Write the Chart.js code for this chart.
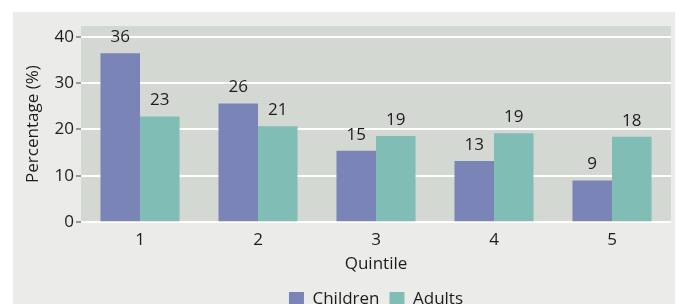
<!DOCTYPE html>
<html>
<head>
<meta charset="utf-8">
<script src="https://cdn.jsdelivr.net/npm/chart.js@4.4.0/dist/chart.umd.min.js"></script>
<style>
  html, body { margin: 0; padding: 0; background: #ffffff; }
</style>
</head>
<body>
<canvas id="quintileChart" width="681" height="304"></canvas>
<script>
// Chart values
const quintiles = ['1', '2', '3', '4', '5'];
const childrenValues = [36.4, 25.6, 15.4, 13.2, 9.0];
const adultsValues = [22.8, 20.7, 18.6, 19.2, 18.4];
const yTickValues = [0, 10, 20, 30, 40];

const FONT = '"Open Sans", "Noto Sans", sans-serif';
const TEXT = '#1c1c1c';
const SIZE = 17;

// Grey outer panel and darker plot background
const panelPlugin = {
    id: 'panel',
    beforeDraw(chart) {
        const ctx = chart.ctx;
        const area = chart.chartArea;
        ctx.save();
        ctx.fillStyle = '#ebecea';
        ctx.fillRect(13, 12, 662, 292);
        ctx.fillStyle = '#d4d8d3';
        ctx.fillRect(area.left, area.top, area.right - area.left, area.bottom - area.top);
        ctx.restore();
    }
};

// Rounded value labels above each bar
const valueLabels = {
    id: 'valueLabels',
    afterDatasetsDraw(chart) {
        const ctx = chart.ctx;
        ctx.save();
        ctx.font = SIZE + 'px ' + FONT;
        ctx.fillStyle = TEXT;
        ctx.textAlign = 'center';
        ctx.textBaseline = 'middle';
        chart.data.datasets.forEach((ds, i) => {
            chart.getDatasetMeta(i).data.forEach((bar, j) => {
                ctx.fillText(Math.round(ds.data[j]), bar.x, bar.y - 16);
            });
        });
        ctx.restore();
    }
};

new Chart(document.getElementById('quintileChart'), {
    type: 'bar',
    data: {
        labels: quintiles,
        datasets: [
            { label: 'Children', data: childrenValues, backgroundColor: '#7a84b7' },
            { label: 'Adults', data: adultsValues, backgroundColor: '#80bdb4' }
        ]
    },
    options: {
        responsive: false,
        animation: false,
        devicePixelRatio: 1,
        layout: { padding: { left: 18, right: 10, top: 26, bottom: -14 } },
        datasets: { bar: { categoryPercentage: 0.67, barPercentage: 1 } },
        plugins: {
            tooltip: { enabled: false },
            legend: {
                position: 'bottom',
                fullSize: false,
                labels: {
                    boxWidth: 15, boxHeight: 15, padding: 10,
                    color: TEXT,
                    font: { family: FONT, size: SIZE }
                }
            }
        },
        scales: {
            x: {
                grid: { display: false },
                border: { display: false },
                ticks: { color: TEXT, font: { family: FONT, size: SIZE }, padding: 0 },
                title: { display: true, text: 'Quintile', color: TEXT, font: { family: FONT, size: SIZE }, padding: { top: 3, bottom: 7 } }
            },
            y: {
                min: 0,
                max: 42.3,
                afterBuildTicks(scale) { scale.ticks = yTickValues.map(v => ({ value: v })); },
                afterFit(scale) { scale.width = 63; },
                grid: { color: '#ffffff', lineWidth: 2, tickColor: '#444444', tickLength: 5, tickWidth: 1 },
                border: { display: false },
                ticks: { color: TEXT, font: { family: FONT, size: SIZE }, padding: 2 },
                title: { display: true, text: 'Percentage (%)', color: TEXT, font: { family: FONT, size: SIZE }, padding: { top: 5, bottom: 0 } }
            }
        }
    },
    plugins: [panelPlugin, valueLabels]
});
</script>
</body>
</html>
